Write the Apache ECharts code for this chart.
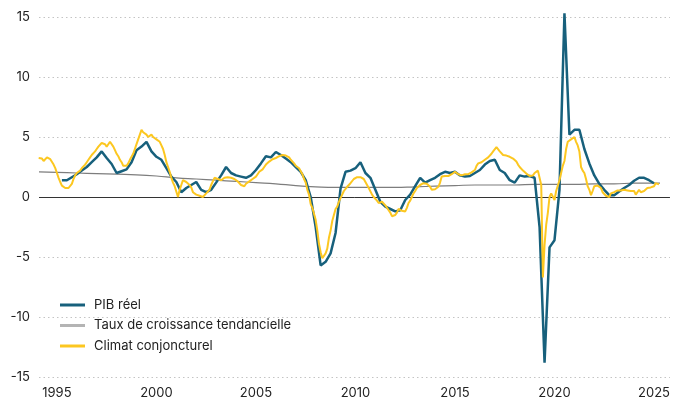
<!DOCTYPE html>
<html><head><meta charset="utf-8">
<script src="https://cdn.jsdelivr.net/npm/echarts@6/dist/echarts.min.js"></script>
<style>html,body{margin:0;padding:0;background:#fff}#c{width:673px;height:403px}</style>
</head><body><div id="c"></div>
<script>
// PIB réel: quarterly, first point 1995 Q2
const pibStart = 1995.25;
const pibValues = [
  1.4, 1.4, 1.65, 1.9, 2.2, 2.5, 2.9, 3.3, 3.8, 3.25, 2.75, 2.0,
  2.15, 2.3, 2.9, 3.9, 4.2, 4.6, 3.8, 3.35, 3.1, 2.4, 1.7, 1.25,
  0.4, 0.75, 1.0, 1.25, 0.6, 0.4, 0.6, 1.2, 1.8, 2.5, 2.0, 1.8,
  1.7, 1.6, 1.8, 2.25, 2.8, 3.4, 3.3, 3.75, 3.5, 3.2, 2.9, 2.5,
  2.1, 1.4, 0.0, -2.5, -5.7, -5.4, -4.7, -3.0, 0.7, 2.1, 2.2, 2.4,
  2.9, 2.0, 1.6, 0.6, -0.4, -0.8, -1.0, -1.2, -1.1, -0.25, 0.2, 0.9,
  1.6, 1.2, 1.4, 1.6, 1.9, 2.1, 2.0, 2.1, 1.8, 1.7, 1.75, 2.0,
  2.25, 2.7, 3.0, 3.1, 2.25, 2.0, 1.4, 1.2, 1.8, 1.7, 1.75, 1.6,
  -2.5, -13.8, -4.2, -3.6, 0.6, 15.3, 5.2, 5.6, 5.6, 4.0, 2.8, 1.8,
  1.1, 0.6, 0.15, 0.15, 0.45, 0.75, 1.0, 1.35, 1.6, 1.6, 1.4, 1.15
];
// Taux de croissance tendancielle
const trendYears = [1994.1, 1995, 1996, 1997, 1998, 1999, 2000, 2001, 2002, 2003, 2004, 2005, 2006, 2007, 2008, 2009, 2010, 2011, 2012, 2013, 2014, 2015, 2016, 2017, 2018, 2019, 2020, 2021, 2022, 2023, 2024, 2025.3];
const trendValues = [2.1, 2.05, 2.0, 1.95, 1.9, 1.85, 1.75, 1.6, 1.5, 1.4, 1.3, 1.2, 1.1, 0.95, 0.85, 0.8, 0.8, 0.8, 0.8, 0.85, 0.9, 0.95, 1.0, 1.0, 1.0, 1.05, 1.05, 1.05, 1.1, 1.1, 1.15, 1.15];
// Climat conjoncturel: monthly, first point Feb 1994
const climatStart = 1994 + 1/12;
const climatValues = [
  3.25, 3.2, 3.2, 3.0, 2.85, 3.3, 3.2, 3.15, 3.15, 2.7, 2.4,
  2.0, 1.6, 1.25, 0.95, 0.8, 0.75, 0.7, 0.75, 0.8, 1.1, 1.5, 1.8,
  2.0, 2.1, 2.2, 2.4, 2.5, 2.7, 2.9, 3.1, 3.3, 3.5, 3.6, 3.8,
  4.0, 4.2, 4.35, 4.5, 4.6, 4.4, 4.2, 4.4, 4.6, 4.45, 4.2, 3.9,
  3.6, 3.4, 3.1, 2.9, 2.6, 2.5, 2.6, 2.8, 3.1, 3.25, 3.6, 4.0,
  4.4, 4.8, 5.2, 5.6, 5.4, 5.3, 5.2, 5.0, 5.05, 5.2, 5.0, 4.9,
  4.8, 4.7, 4.6, 4.3, 4.0, 3.5, 2.9, 2.5, 2.1, 1.6, 1.2, 0.9,
  0.75, 0.0, 0.6, 1.0, 1.4, 1.4, 1.25, 1.2, 1.0, 0.8, 0.4, 0.3,
  0.2, 0.15, 0.1, 0.0, 0.0, 0.1, 0.3, 0.3, 0.6, 1.0, 1.3, 1.6,
  1.6, 1.5, 1.4, 1.4, 1.5, 1.6, 1.7, 1.65, 1.6, 1.6, 1.55, 1.5,
  1.4, 1.3, 1.25, 1.0, 0.85, 0.9, 1.1, 1.15, 1.3, 1.4, 1.5, 1.6,
  1.7, 1.9, 2.1, 2.1, 2.3, 2.5, 2.7, 2.85, 2.95, 3.05, 3.15, 3.2,
  3.25, 3.3, 3.4, 3.45, 3.5, 3.55, 3.45, 3.4, 3.3, 3.1, 2.95, 2.8,
  2.6, 2.5, 2.4, 2.25, 1.9, 1.5, 1.2, 0.6, 0.2, -0.6, -0.9, -1.4,
  -1.9, -2.8, -3.9, -4.6, -5.1, -5.0, -4.7, -4.3, -3.4, -2.8, -2.0, -1.5,
  -1.0, -0.8, -0.4, -0.1, 0.2, 0.5, 0.4, 0.85, 0.9, 1.15, 1.3, 1.5,
  1.6, 1.65, 1.7, 1.65, 1.6, 1.5, 1.25, 1.0, 0.75, 0.6, 0.2, 0.0,
  -0.1, -0.3, -0.5, -0.45, -0.4, -0.5, -0.7, -0.9, -1.1, -1.3, -1.6, -1.55,
  -1.5, -1.3, -1.0, -1.05, -1.15, -1.25, -1.2, -0.9, -0.5, -0.3, 0.0, 0.3,
  0.5, 0.75, 0.9, 1.0, 1.1, 1.15, 1.15, 1.1, 1.0, 0.85, 0.6, 0.6,
  0.65, 0.75, 0.85, 1.2, 1.7, 1.7, 1.75, 1.7, 1.75, 1.8, 1.9, 2.0,
  2.1, 2.0, 1.9, 1.85, 1.8, 1.85, 1.9, 1.95, 1.9, 2.0, 2.05, 2.1,
  2.25, 2.6, 2.8, 2.85, 2.9, 3.0, 3.1, 3.2, 3.3, 3.45, 3.6, 3.8,
  3.95, 4.15, 4.0, 3.8, 3.7, 3.5, 3.4, 3.45, 3.35, 3.35, 3.3, 3.2,
  3.15, 2.95, 2.7, 2.5, 2.35, 2.2, 2.1, 1.95, 1.8, 1.75, 1.7, 1.8,
  2.0, 2.1, 2.2, 2.25, 1.0, -6.7, -4.0, -2.3, -1.3, 0.0, 0.3, 0.3,
  -0.25, 0.5, 0.4, 1.4, 2.0, 2.6, 3.0, 4.0, 4.6, 4.75, 4.8, 4.9,
  5.0, 4.6, 4.3, 3.8, 2.5, 2.2, 2.0, 1.5, 0.9, 0.6, 0.15, 0.5,
  0.9, 1.0, 0.95, 1.0, 0.75, 0.4, 0.3, 0.1, 0.0, 0.0, 0.3, 0.4,
  0.4, 0.5, 0.55, 0.6, 0.55, 0.6, 0.6, 0.6, 0.55, 0.6, 0.5, 0.5,
  0.5, 0.2, 0.3, 0.6, 0.4, 0.35, 0.5, 0.6, 0.75, 0.75, 0.8, 0.85,
  0.9, 1.15, 1.0, 1.05
];
const xTickLabels = [1995, 2000, 2005, 2010, 2015, 2020, 2025];
const yTicks = [-15, -10, -5, 0, 5, 10, 15];

const pibData = pibValues.map((v, i) => [pibStart + i * 0.25, v]);
const trendData = trendValues.map((v, i) => [trendYears[i], v]);
const climatData = climatValues.map((v, i) => [climatStart + i / 12, v]);

const FONT = 'Inter, "Noto Sans", sans-serif';
const chart = echarts.init(document.getElementById('c'), null, {renderer: 'canvas'});
chart.setOption({
  animation: false,
  backgroundColor: '#ffffff',
  grid: {left: 39, right: 0, top: 17, bottom: 26, containLabel: false},
  xAxis: {
    type: 'value', min: 1994.1, max: 2025.8,
    axisLine: {show: false}, axisTick: {show: false}, splitLine: {show: false},
    axisLabel: {
      customValues: xTickLabels, color: '#222', fontFamily: FONT, fontSize: 13, margin: 10,
      formatter: v => String(v)
    }
  },
  yAxis: {
    type: 'value', min: yTicks[0], max: yTicks[yTicks.length - 1], interval: 5,
    axisLine: {show: false}, axisTick: {show: false},
    axisLabel: {color: '#222', fontFamily: FONT, fontSize: 13, margin: 9},
    splitLine: {show: true, lineStyle: {color: '#c4c4c4', type: [1.5, 3], width: 1}}
  },
  legend: {
    orient: 'vertical', left: 55, top: 293,
    data: ['PIB réel', 'Taux de croissance tendancielle', 'Climat conjoncturel'],
    icon: 'rect', itemWidth: 25, itemHeight: 3, itemGap: 6.5,
    textStyle: {color: '#222', fontFamily: FONT, fontSize: 13, padding: [0, 0, 0, 4], lineHeight: 14}
  },
  series: [
    {
      name: 'PIB réel', type: 'line', data: pibData, showSymbol: false, z: 3, clip: false,
      lineStyle: {color: '#17607c', width: 2.5}, itemStyle: {color: '#17607c'},
      markLine: {
        silent: true, symbol: 'none', label: {show: false},
        lineStyle: {color: '#333', type: 'solid', width: 1},
        data: [{yAxis: 0}], z: 1
      }
    },
    {
      name: 'Taux de croissance tendancielle', type: 'line', data: trendData, showSymbol: false, smooth: true, z: 2,
      lineStyle: {color: '#7d7d7d', width: 1.2}, itemStyle: {color: '#b4b4b4'}
    },
    {
      name: 'Climat conjoncturel', type: 'line', data: climatData, showSymbol: false, z: 4, clip: false,
      lineStyle: {color: '#fcc720', width: 2}, itemStyle: {color: '#fcc720'}
    }
  ]
});
</script>
</body></html>
